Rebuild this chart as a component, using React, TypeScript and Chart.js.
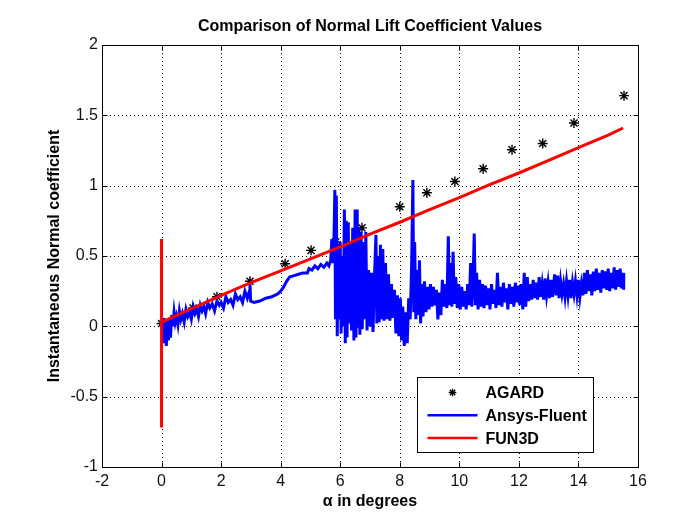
import React, { useEffect, useRef } from 'react';
import { Chart, registerables } from 'chart.js';

Chart.register(...registerables);

const chartTitle = 'Comparison of Normal Lift Coefficient Values';
const xAxisLabel = 'α in degrees';
const yAxisLabel = 'Instantaneous Normal coefficient';
const xTickValues = [-2, 0, 2, 4, 6, 8, 10, 12, 14, 16];
const yTickValues = [-1, -0.5, 0, 0.5, 1, 1.5, 2];
const seriesNames = ['AGARD', 'Ansys-Fluent', 'FUN3D'];

// AGARD experimental points
const agardAlpha = [0, 1.06, 1.86, 2.97, 4.15, 5.02, 5.85, 6.73, 8.0, 8.91, 9.85, 10.8, 11.77, 12.8, 13.85, 15.53];
const agardCn = [0.02, 0.13, 0.21, 0.32, 0.445, 0.54, 0.6, 0.7, 0.85, 0.95, 1.03, 1.12, 1.255, 1.3, 1.446, 1.64];

// FUN3D (startup transient at alpha = 0, then the ramp)
const fun3dPoints: [number, number][] = [
  [0, 0.03], [0, 0.62], [0, -0.72], [0, 0.35], [0, -0.4], [0, 0.03],
  [1, 0.125], [2, 0.22], [3, 0.31], [4, 0.395], [5, 0.48], [6, 0.565], [7, 0.655],
  [8, 0.74], [9, 0.83], [10, 0.915], [11, 1.005], [12, 1.09], [13, 1.18], [14, 1.27],
  [15, 1.36], [15.5, 1.41],
];

// Ansys-Fluent: noisy rise up to ~5.8 deg
const fluentRise: [number, number][] = [
  [0.02, 0.03], [0.05, -0.05], [0.08, 0.06], [0.1, -0.12], [0.13, 0.02], [0.16, -0.14], [0.2, 0.04],
  [0.23, -0.1], [0.27, 0.05], [0.3, -0.08], [0.34, 0.08], [0.38, 0.0], [0.42, 0.1], [0.46, 0.03],
  [0.5, 0.07], [0.55, 0.01], [0.6, 0.11], [0.65, 0.05], [0.7, 0.09], [0.76, 0.03], [0.82, 0.12],
  [0.88, 0.07], [0.94, 0.1], [1.0, 0.05], [1.06, 0.14], [1.12, 0.09], [1.18, 0.12], [1.24, 0.07],
  [1.3, 0.15], [1.36, 0.11], [1.42, 0.14], [1.48, 0.09], [1.55, 0.17], [1.62, 0.13], [1.7, 0.16],
  [1.78, 0.11], [1.86, 0.18], [1.94, 0.15], [2.0, 0.17], [2.08, 0.13], [2.16, 0.21], [2.24, 0.17],
  [2.32, 0.19], [2.4, 0.15], [2.48, 0.23], [2.56, 0.19], [2.64, 0.21], [2.72, 0.17], [2.8, 0.25],
  [2.88, 0.2], [2.95, 0.25], [2.97, 0.31], [2.99, 0.18], [3.1, 0.17], [3.3, 0.18], [3.5, 0.2],
  [3.7, 0.21], [3.9, 0.23], [4.0, 0.25], [4.1, 0.28], [4.2, 0.32], [4.3, 0.35], [4.45, 0.36],
  [4.6, 0.37], [4.75, 0.38], [4.9, 0.38], [4.95, 0.41], [5.05, 0.4], [5.15, 0.43], [5.25, 0.41],
  [5.35, 0.44], [5.45, 0.42], [5.55, 0.45], [5.62, 0.43], [5.68, 0.47], [5.72, 0.62], [5.74, 0.45],
  [5.78, 0.5],
];

// Ansys-Fluent: burst of oscillation between ~5.8 and ~8.7 deg
const fluentBurst: [number, number][] = [
  [5.82, 0.97], [5.84, 0.05], [5.87, 0.93], [5.9, -0.07], [5.93, 0.55], [5.96, 0.05], [6.0, 0.6],
  [6.03, -0.05], [6.06, 0.5], [6.1, 0.0], [6.14, 0.83], [6.17, -0.12], [6.2, 0.75], [6.23, -0.08],
  [6.27, 0.74], [6.3, 0.02], [6.34, 0.6], [6.38, -0.03], [6.42, 0.7], [6.46, -0.1], [6.5, 0.83],
  [6.53, -0.08], [6.57, 0.83], [6.6, 0.0], [6.63, 0.7], [6.66, -0.06], [6.7, 0.67], [6.74, -0.02],
  [6.78, 0.6], [6.82, 0.05], [6.86, 0.67], [6.9, -0.03], [6.95, 0.4], [7.0, 0.0], [7.05, 0.38],
  [7.1, -0.04], [7.15, 0.35], [7.2, 0.65], [7.23, 0.02], [7.27, 0.5], [7.31, 0.03], [7.35, 0.58],
  [7.39, 0.05], [7.43, 0.55], [7.47, 0.04], [7.52, 0.45], [7.57, 0.05], [7.62, 0.37], [7.67, 0.04],
  [7.72, 0.3], [7.77, 0.06], [7.82, 0.26], [7.87, -0.05], [7.92, 0.22], [7.97, -0.07], [8.02, 0.2],
  [8.06, -0.1], [8.1, 0.14], [8.15, -0.14], [8.2, 0.1], [8.25, -0.12], [8.3, 0.2], [8.35, 0.05],
  [8.4, 0.45], [8.44, 1.04], [8.47, 0.1], [8.5, 0.6], [8.54, 0.05], [8.58, 0.4], [8.62, 0.08],
  [8.66, 0.47],
];

// Ansys-Fluent: noisy tail after ~8.7 deg
const fluentTail: [number, number][] = [
  [8.7, 0.02], [8.74, 0.3], [8.78, 0.07], [8.83, 0.32], [8.88, 0.1], [8.93, 0.28], [8.98, 0.12],
  [9.03, 0.3], [9.08, 0.14], [9.13, 0.28], [9.18, 0.15], [9.23, 0.26], [9.28, 0.05], [9.33, 0.24],
  [9.38, 0.08], [9.43, 0.33], [9.48, 0.14], [9.53, 0.3], [9.58, 0.13], [9.63, 0.64], [9.67, 0.15],
  [9.71, 0.45], [9.75, 0.14], [9.79, 0.53], [9.83, 0.16], [9.88, 0.35], [9.93, 0.13], [9.98, 0.3],
  [10.03, 0.12], [10.08, 0.28], [10.13, 0.14], [10.18, 0.25], [10.23, 0.12], [10.28, 0.3],
  [10.33, 0.15], [10.38, 0.45], [10.42, 0.14], [10.47, 0.4], [10.5, 0.66], [10.54, 0.15],
  [10.58, 0.38], [10.63, 0.12], [10.68, 0.33], [10.73, 0.14], [10.78, 0.3], [10.83, 0.13],
  [10.88, 0.29], [10.93, 0.15], [10.98, 0.27], [11.03, 0.12], [11.08, 0.3], [11.13, 0.16],
  [11.18, 0.26], [11.23, 0.13], [11.28, 0.38], [11.33, 0.15], [11.38, 0.28], [11.43, 0.14],
  [11.48, 0.31], [11.53, 0.17], [11.58, 0.27], [11.63, 0.12], [11.68, 0.3], [11.73, 0.16],
  [11.78, 0.28], [11.83, 0.14], [11.88, 0.31], [11.93, 0.17], [11.98, 0.29], [12.03, 0.15],
  [12.08, 0.3], [12.13, 0.12], [12.18, 0.38], [12.23, 0.14], [12.28, 0.35], [12.33, 0.18],
  [12.38, 0.3], [12.43, 0.19], [12.48, 0.33], [12.53, 0.2], [12.58, 0.31], [12.63, 0.19],
  [12.68, 0.35], [12.73, 0.21], [12.78, 0.3], [12.83, 0.19], [12.88, 0.34], [12.93, 0.22],
  [12.98, 0.31], [13.03, 0.2], [13.08, 0.33], [13.13, 0.21], [13.2, 0.37], [13.25, 0.22],
  [13.3, 0.36], [13.35, 0.2], [13.4, 0.32], [13.45, 0.23], [13.5, 0.3], [13.55, 0.21], [13.6, 0.32],
  [13.65, 0.22], [13.7, 0.33], [13.75, 0.2], [13.8, 0.31], [13.85, 0.23], [13.9, 0.32], [13.95, 0.22],
  [14.0, 0.33], [14.05, 0.21], [14.1, 0.3], [14.15, 0.22], [14.2, 0.38], [14.25, 0.23], [14.3, 0.4],
  [14.35, 0.25], [14.4, 0.37], [14.45, 0.22], [14.5, 0.39], [14.55, 0.25], [14.6, 0.41], [14.65, 0.26],
  [14.7, 0.38], [14.75, 0.24], [14.8, 0.4], [14.85, 0.27], [14.9, 0.39], [14.95, 0.26], [15.0, 0.41],
  [15.05, 0.25], [15.1, 0.38], [15.15, 0.27], [15.2, 0.42], [15.25, 0.26], [15.3, 0.4], [15.35, 0.28],
  [15.4, 0.41], [15.45, 0.27], [15.5, 0.38], [15.52, 0.26],
];

const FONT = '"Liberation Sans", Arial, Helvetica, sans-serif';

function drawStar(ctx: CanvasRenderingContext2D, x: number, y: number, r: number) {
  ctx.beginPath();
  ctx.moveTo(x - r, y); ctx.lineTo(x + r, y);
  ctx.moveTo(x, y - r); ctx.lineTo(x, y + r);
  const d = r * 0.7071;
  ctx.moveTo(x - d, y - d); ctx.lineTo(x + d, y + d);
  ctx.moveTo(x - d, y + d); ctx.lineTo(x + d, y - d);
  ctx.stroke();
}

const framePlugin = {
  id: 'matlabFrame',
  beforeDatasetsDraw(chart: any) {
    const { ctx, chartArea: a, scales } = chart;
    ctx.save();
    ctx.strokeStyle = '#000';
    ctx.lineWidth = 1;
    ctx.setLineDash([1, 3]);
    xTickValues.slice(1, -1).forEach((v) => {
      const px = Math.round(scales.x.getPixelForValue(v)) + 0.5;
      ctx.beginPath();
      ctx.moveTo(px, a.top);
      ctx.lineTo(px, a.bottom);
      ctx.stroke();
    });
    yTickValues.slice(1, -1).forEach((v) => {
      const py = Math.round(scales.y.getPixelForValue(v)) + 0.5;
      ctx.beginPath();
      ctx.moveTo(a.left, py);
      ctx.lineTo(a.right, py);
      ctx.stroke();
    });
    ctx.restore();
  },
  afterDatasetsDraw(chart: any) {
    const { ctx, chartArea: a, scales } = chart;
    ctx.save();
    ctx.setLineDash([]);
    ctx.strokeStyle = '#000';
    ctx.lineWidth = 1;
    const L = Math.round(a.left) + 0.5;
    const R = Math.round(a.right) + 0.5;
    const T = Math.round(a.top) + 0.5;
    const B = Math.round(a.bottom) + 0.5;
    ctx.strokeRect(L, T, R - L, B - T);
    const tl = 5;
    ctx.beginPath();
    xTickValues.forEach((v) => {
      const px = Math.round(scales.x.getPixelForValue(v)) + 0.5;
      ctx.moveTo(px, B); ctx.lineTo(px, B - tl);
      ctx.moveTo(px, T); ctx.lineTo(px, T + tl);
    });
    yTickValues.forEach((v) => {
      const py = Math.round(scales.y.getPixelForValue(v)) + 0.5;
      ctx.moveTo(L, py); ctx.lineTo(L + tl, py);
      ctx.moveTo(R, py); ctx.lineTo(R - tl, py);
    });
    ctx.stroke();

    // legend box (MATLAB style, inside axes)
    const boxW = 176;
    const boxH = 75;
    const bx = Math.round(a.right - 45 - boxW) + 0.5;
    const by = Math.round(a.bottom - 15 - boxH) + 0.5;
    ctx.fillStyle = '#fff';
    ctx.fillRect(bx, by, boxW, boxH);
    ctx.strokeRect(bx, by, boxW, boxH);
    const rows = chart.data.datasets;
    rows.forEach((ds: any, i: number) => {
      const cy = by + 15 + i * 22.8;
      const x0 = bx + 10;
      const x1 = bx + 60;
      if (ds.showLine === false) {
        ctx.strokeStyle = ds.borderColor;
        ctx.lineWidth = 1.3;
        drawStar(ctx, (x0 + x1) / 2, cy, 3.8);
      } else {
        ctx.strokeStyle = ds.borderColor;
        ctx.lineWidth = 2.5;
        ctx.beginPath();
        ctx.moveTo(x0, cy);
        ctx.lineTo(x1, cy);
        ctx.stroke();
      }
      ctx.fillStyle = '#000';
      ctx.font = `bold 16px ${FONT}`;
      ctx.textBaseline = 'middle';
      ctx.textAlign = 'left';
      ctx.fillText(ds.label, bx + 68, cy + 1);
    });
    ctx.restore();
  },
};

export default function App() {
  const canvasRef = useRef<HTMLCanvasElement | null>(null);

  useEffect(() => {
    document.body.style.margin = '0';
    const canvas = canvasRef.current;
    if (!canvas) return;

    const toXY = (pts: [number, number][]) => pts.map(([x, y]) => ({ x, y }));
    const fluentAll = [...fluentRise, ...fluentBurst, ...fluentTail];

    const chart = new Chart(canvas, {
      type: 'scatter',
      data: {
        datasets: [
          {
            label: seriesNames[0],
            data: agardAlpha.map((x, i) => ({ x, y: agardCn[i] })),
            showLine: false,
            pointStyle: 'star',
            pointRadius: 5,
            pointBorderWidth: 1.4,
            borderColor: '#000',
            backgroundColor: '#000',
            order: 2,
          },
          {
            label: seriesNames[1],
            data: toXY(fluentAll),
            showLine: true,
            borderColor: '#0000ff',
            backgroundColor: '#0000ff',
            borderWidth: 3,
            pointRadius: 0,
            tension: 0,
            order: 1,
          },
          {
            label: seriesNames[2],
            data: toXY(fun3dPoints),
            showLine: true,
            borderColor: '#ff0000',
            backgroundColor: '#ff0000',
            borderWidth: 3,
            pointRadius: 0,
            tension: 0,
            order: 0,
          },
        ],
      },
      options: {
        responsive: false,
        animation: false,
        events: [],
        layout: { padding: { left: 0, right: 53, top: 0, bottom: 0 } },
        plugins: {
          legend: { display: false },
          tooltip: { enabled: false },
          title: {
            display: true,
            fullSize: false,
            text: chartTitle,
            color: '#000',
            font: { family: FONT, size: 16, weight: 'bold' },
            padding: { top: 17, bottom: 8.8 },
          },
        },
        scales: {
          x: {
            type: 'linear',
            min: -2,
            max: 16,
            grid: { display: false, drawTicks: false },
            border: { display: false },
            afterBuildTicks: (scale: any) => {
              scale.ticks = xTickValues.map((v) => ({ value: v }));
            },
            afterFit: (scale: any) => {
              scale.height = 55;
            },
            ticks: {
              color: '#111',
              padding: 5,
              maxRotation: 0,
              autoSkip: false,
              font: { family: FONT, size: 16 },
              callback: (v: any) => String(v),
            },
            title: {
              display: true,
              text: xAxisLabel,
              color: '#000',
              font: { family: FONT, size: 16, weight: 'bold' },
              padding: { top: 0, bottom: 10.4 },
            },
          },
          y: {
            type: 'linear',
            min: -1,
            max: 2,
            grid: { display: false, drawTicks: false },
            border: { display: false },
            afterBuildTicks: (scale: any) => {
              scale.ticks = yTickValues.map((v) => ({ value: v }));
            },
            afterFit: (scale: any) => {
              scale.width = 102;
            },
            ticks: {
              color: '#111',
              padding: 4,
              autoSkip: false,
              font: { family: FONT, size: 16 },
              callback: (v: any) => String(v),
            },
            title: {
              display: true,
              text: yAxisLabel,
              color: '#000',
              font: { family: FONT, size: 16, weight: 'bold' },
              padding: { top: 45.4, bottom: 0 },
            },
          },
        },
      },
      plugins: [framePlugin],
    } as any);

    return () => {
      chart.destroy();
    };
  }, []);

  return (
    <div style={{ width: 691, height: 522, background: '#fff' }}>
      <canvas ref={canvasRef} width={691} height={522} style={{ display: 'block' }} />
    </div>
  );
}
